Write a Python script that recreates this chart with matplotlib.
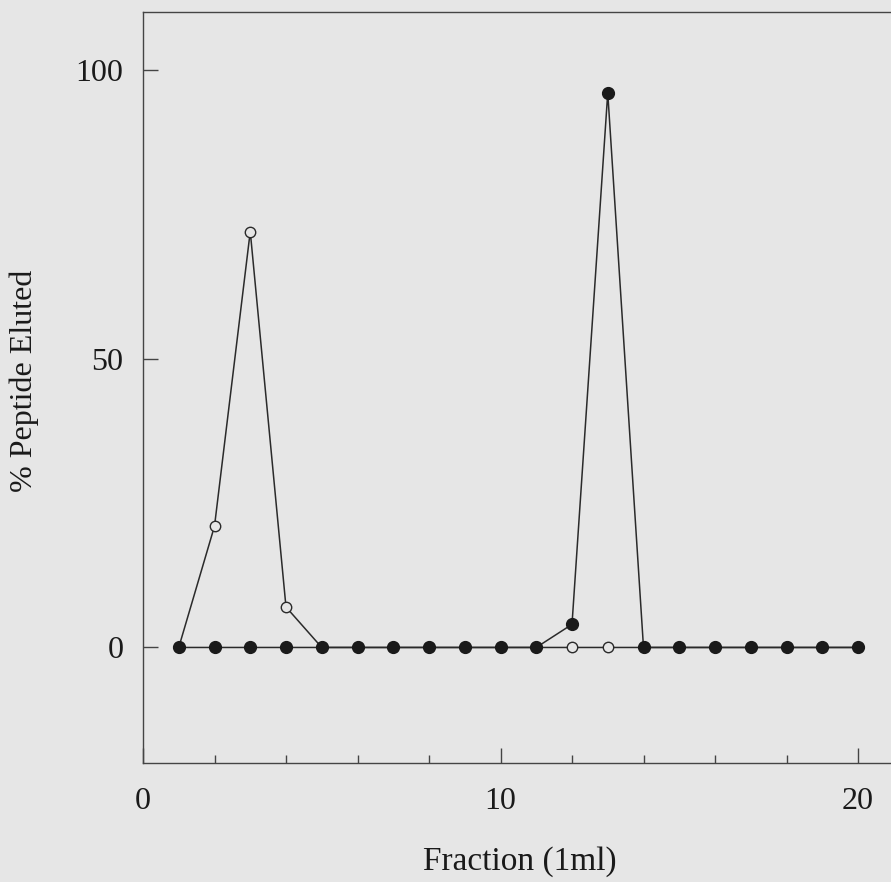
import matplotlib
matplotlib.use("Agg")
import matplotlib.pyplot as plt
from matplotlib.ticker import MultipleLocator

fractions = list(range(1, 21))
filled_vals = [0, 0, 0, 0, 0, 0, 0, 0, 0, 0, 0, 4, 96, 0, 0, 0, 0, 0, 0, 0]
open_vals = [0, 21, 72, 7, 0, 0, 0, 0, 0, 0, 0, 0, 0, 0, 0, 0, 0, 0, 0, 0]
x_ticks = [0, 10, 20]
y_ticks = [0, 50, 100]

plt.rcParams['font.family'] = ['Liberation Serif', 'DejaVu Serif']

bg = '#e6e6e6'
ink = '#2a2a2a'
W, H = 891, 882
fig = plt.figure(figsize=(W / 100, H / 100), dpi=100, facecolor=bg)
left = 143 / W
right = (143 + 21 * 35.75) / W
bottom = 1 - 763 / H
top = 1 - 12 / H
ax = fig.add_axes([left, bottom, right - left, top - bottom], facecolor=bg)

ax.plot(fractions, open_vals, color=ink, lw=1.1, marker='o', ms=7.5,
        mfc=bg, mec=ink, mew=1.0, zorder=2)
ax.plot(fractions, filled_vals, color=ink, lw=1.1, marker='o', ms=8.5,
        mfc='#1a1a1a', mec='#1a1a1a', zorder=3)

ax.set_xlim(0, 21)
ax.set_ylim(-20, 110)
ax.set_xticks(x_ticks)
ax.set_yticks(y_ticks)
ax.xaxis.set_minor_locator(MultipleLocator(2))

ax.spines['right'].set_visible(False)
for s in ['left', 'bottom', 'top']:
    ax.spines[s].set_color('#444444')
    ax.spines[s].set_linewidth(1.0)

ax.tick_params(axis='x', which='major', direction='in', length=11, width=1,
               color='#444444', pad=17, labelsize=23, labelcolor='#1a1a1a')
ax.tick_params(axis='x', which='minor', direction='in', length=6, width=1,
               color='#444444')
ax.tick_params(axis='y', which='major', direction='in', length=11, width=1,
               color='#444444', pad=14, labelsize=23, labelcolor='#1a1a1a')

fig.text(520 / W, 1 - 862 / H, 'Fraction (1ml)', ha='center', va='center',
         fontsize=24, color='#1a1a1a')
fig.text(24 / W, 1 - 381 / H, '% Peptide Eluted', ha='center', va='center',
         rotation=90, fontsize=23, color='#1a1a1a')

fig.savefig('out.png', dpi=100, facecolor=bg)
